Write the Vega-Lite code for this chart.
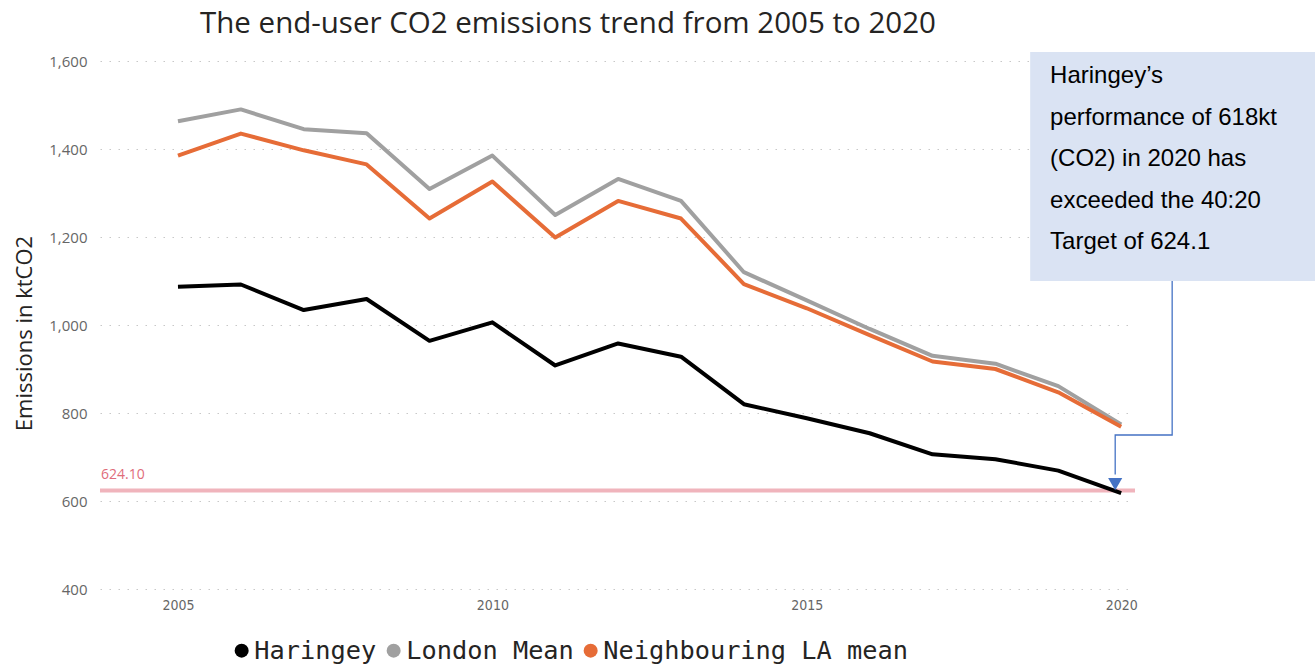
{
  "$schema": "https://vega.github.io/schema/vega-lite/v6.json",
  "width": 1035,
  "height": 528,
  "autosize": {"type": "none"},
  "padding": {"left": 100, "top": 61, "right": 180, "bottom": 77},
  "background": "white",
  "config": {"view": {"stroke": null}},
  "title": {
    "text": "The end-user CO2 emissions trend from 2005 to 2020",
    "anchor": "start",
    "frame": "group",
    "dx": 100,
    "font": "Open Sans",
    "fontSize": 29.5,
    "fontWeight": "normal",
    "color": "#252423",
    "offset": 12
  },
  "datasets": {
    "emissions": [
      {"year": 2005, "series": "Haringey", "value": 1087},
      {"year": 2006, "series": "Haringey", "value": 1092},
      {"year": 2007, "series": "Haringey", "value": 1034},
      {"year": 2008, "series": "Haringey", "value": 1059},
      {"year": 2009, "series": "Haringey", "value": 964},
      {"year": 2010, "series": "Haringey", "value": 1006},
      {"year": 2011, "series": "Haringey", "value": 908},
      {"year": 2012, "series": "Haringey", "value": 958},
      {"year": 2013, "series": "Haringey", "value": 928},
      {"year": 2014, "series": "Haringey", "value": 820},
      {"year": 2015, "series": "Haringey", "value": 788},
      {"year": 2016, "series": "Haringey", "value": 754},
      {"year": 2017, "series": "Haringey", "value": 706},
      {"year": 2018, "series": "Haringey", "value": 695},
      {"year": 2019, "series": "Haringey", "value": 669},
      {"year": 2020, "series": "Haringey", "value": 618},
      {"year": 2005, "series": "London Mean", "value": 1463},
      {"year": 2006, "series": "London Mean", "value": 1490},
      {"year": 2007, "series": "London Mean", "value": 1445},
      {"year": 2008, "series": "London Mean", "value": 1436},
      {"year": 2009, "series": "London Mean", "value": 1309},
      {"year": 2010, "series": "London Mean", "value": 1385},
      {"year": 2011, "series": "London Mean", "value": 1250},
      {"year": 2012, "series": "London Mean", "value": 1332},
      {"year": 2013, "series": "London Mean", "value": 1282},
      {"year": 2014, "series": "London Mean", "value": 1120},
      {"year": 2015, "series": "London Mean", "value": 1056},
      {"year": 2016, "series": "London Mean", "value": 991},
      {"year": 2017, "series": "London Mean", "value": 930},
      {"year": 2018, "series": "London Mean", "value": 912},
      {"year": 2019, "series": "London Mean", "value": 861},
      {"year": 2020, "series": "London Mean", "value": 774},
      {"year": 2005, "series": "Neighbouring LA mean", "value": 1385},
      {"year": 2006, "series": "Neighbouring LA mean", "value": 1435},
      {"year": 2007, "series": "Neighbouring LA mean", "value": 1397},
      {"year": 2008, "series": "Neighbouring LA mean", "value": 1365},
      {"year": 2009, "series": "Neighbouring LA mean", "value": 1242},
      {"year": 2010, "series": "Neighbouring LA mean", "value": 1326},
      {"year": 2011, "series": "Neighbouring LA mean", "value": 1199},
      {"year": 2012, "series": "Neighbouring LA mean", "value": 1282},
      {"year": 2013, "series": "Neighbouring LA mean", "value": 1242},
      {"year": 2014, "series": "Neighbouring LA mean", "value": 1093},
      {"year": 2015, "series": "Neighbouring LA mean", "value": 1038},
      {"year": 2016, "series": "Neighbouring LA mean", "value": 977},
      {"year": 2017, "series": "Neighbouring LA mean", "value": 917},
      {"year": 2018, "series": "Neighbouring LA mean", "value": 900},
      {"year": 2019, "series": "Neighbouring LA mean", "value": 847},
      {"year": 2020, "series": "Neighbouring LA mean", "value": 769}
    ],
    "target": [
      {"year": 2003.76, "target": 624.1, "label": "624.10"}
    ],
    "box": [
      {"x1": 2018.553, "x2": 2023.09, "y1": 1620.5, "y2": 1100}
    ],
    "note": [
      {"x": 2018.87, "y": 1565.9, "text": "Haringey’s\nperformance of 618kt\n(CO2) in 2020 has\nexceeded the 40:20\nTarget of 624.1"}
    ],
    "connector": [
      {"step": 1, "x": 2020.811, "y": 1100},
      {"step": 2, "x": 2020.811, "y": 750},
      {"step": 3, "x": 2019.905, "y": 750},
      {"step": 4, "x": 2019.905, "y": 660}
    ],
    "arrow": [
      {"x": 2019.905, "y": 638.6}
    ]
  },
  "layer": [
    {
      "data": {"name": "target"},
      "mark": {"type": "rule", "color": "#F0B4BC", "strokeWidth": 4},
      "encoding": {
        "y": {
          "field": "target",
          "type": "quantitative",
          "scale": {"domain": [400, 1600], "nice": false, "zero": false},
          "axis": {
            "values": [400, 600, 800, 1000, 1200, 1400, 1600],
            "format": ",.0f",
            "domain": false,
            "ticks": false,
            "grid": true,
            "gridColor": "#C8C8C8",
            "gridDash": [1.5, 7.5],
            "gridWidth": 1.2,
            "labelFont": "Open Sans",
            "labelFontSize": 15,
            "labelColor": "#666666",
            "labelPadding": 13,
            "title": "Emissions in ktCO2",
            "titleFont": "Open Sans",
            "titleFontSize": 22,
            "titleFontWeight": "normal",
            "titleColor": "#252423",
            "titlePadding": 12,
            "titleY": 272
          }
        }
      }
    },
    {
      "data": {"name": "target"},
      "mark": {"type": "text", "align": "left", "baseline": "bottom", "dx": 1, "dy": -8, "font": "Open Sans", "fontSize": 14, "color": "#E06C7A"},
      "encoding": {
        "x": {"field": "year", "type": "quantitative"},
        "y": {"field": "target", "type": "quantitative"},
        "text": {"field": "label"}
      }
    },
    {
      "data": {"name": "emissions"},
      "mark": {"type": "line", "strokeWidth": 4, "strokeJoin": "round"},
      "encoding": {
        "x": {
          "field": "year",
          "type": "quantitative",
          "scale": {"domain": [2003.76, 2020.22], "nice": false, "zero": false},
          "axis": {
            "values": [2005, 2010, 2015, 2020],
            "format": "d",
            "domain": false,
            "ticks": false,
            "grid": false,
            "labelFont": "DejaVu Sans Condensed",
            "labelFontSize": 14,
            "labelColor": "#666666",
            "labelPadding": 9,
            "title": null
          }
        },
        "y": {"field": "value", "type": "quantitative"},
        "color": {
          "field": "series",
          "type": "nominal",
          "scale": {
            "domain": ["Haringey", "London Mean", "Neighbouring LA mean"],
            "range": ["#000000", "#A0A0A0", "#E66C37"]
          },
          "legend": {
            "orient": "none",
            "legendX": 129,
            "legendY": 577,
            "direction": "horizontal",
            "title": null,
            "padding": 0,
            "symbolType": "circle",
            "symbolSize": 196,
            "symbolStrokeWidth": 0,
            "labelFont": "DejaVu Sans Mono",
            "labelFontSize": 25.3,
            "labelColor": "#252423",
            "labelOffset": 0,
            "labelLimit": 0,
            "columnPadding": 4,
            "encode": {
              "symbols": {"update": {"fill": {"scale": "color", "field": "value"}, "strokeWidth": {"value": 0}}}
            }
          }
        }
      }
    },
    {
      "data": {"name": "box"},
      "mark": {"type": "rect", "color": "#DAE3F3"},
      "encoding": {
        "x": {"field": "x1", "type": "quantitative"},
        "x2": {"field": "x2"},
        "y": {"field": "y1", "type": "quantitative"},
        "y2": {"field": "y2"}
      }
    },
    {
      "data": {"name": "note"},
      "mark": {"type": "text", "align": "left", "baseline": "middle", "lineBreak": "\n", "lineHeight": 41.5, "font": "Liberation Sans", "fontSize": 24, "color": "#000000"},
      "encoding": {
        "x": {"field": "x", "type": "quantitative"},
        "y": {"field": "y", "type": "quantitative"},
        "text": {"field": "text"}
      }
    },
    {
      "data": {"name": "connector"},
      "mark": {"type": "line", "color": "#4472C4", "strokeWidth": 1.3},
      "encoding": {
        "x": {"field": "x", "type": "quantitative"},
        "y": {"field": "y", "type": "quantitative"},
        "order": {"field": "step", "type": "quantitative"}
      }
    },
    {
      "data": {"name": "arrow"},
      "mark": {"type": "point", "shape": "triangle-down", "filled": true, "size": 200, "color": "#4472C4", "opacity": 1},
      "encoding": {
        "x": {"field": "x", "type": "quantitative"},
        "y": {"field": "y", "type": "quantitative"}
      }
    }
  ]
}
